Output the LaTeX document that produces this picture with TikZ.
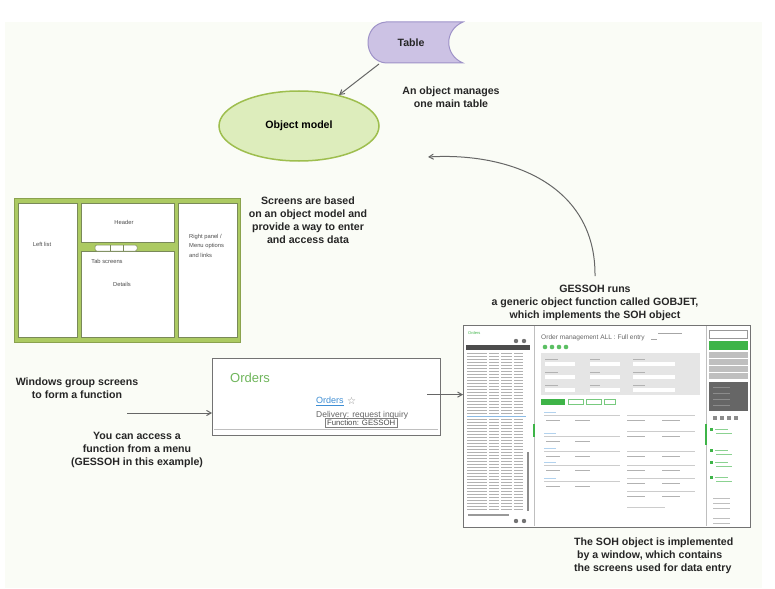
\documentclass[tikz,border=0pt]{standalone}
\usepackage{fontspec}
\setmainfont{Liberation Sans}
\newfontfamily\symfont{DejaVu Sans}
\usepackage{tikz}
\usetikzlibrary{arrows,positioning,calc,shapes.geometric}
\definecolor{bgtint}{RGB}{250,252,246}
\definecolor{tablefill}{RGB}{204,194,228}
\definecolor{tabledraw}{RGB}{158,146,200}
\definecolor{modelfill}{RGB}{221,237,188}
\definecolor{modeldraw}{RGB}{158,190,78}
\definecolor{framegreen}{RGB}{172,202,98}
\definecolor{darkframe}{RGB}{88,108,48}
\definecolor{ordergreen}{RGB}{112,182,92}
\definecolor{linkblue}{RGB}{62,142,212}
\definecolor{sapgreen}{RGB}{62,180,72}
\tikzset{note/.style={font=\bfseries\fontsize{10.6}{13}\selectfont,align=center,text=black!85,inner sep=0pt}}
\tikzset{wire/.style={draw=darkframe!80,fill=white,line width=0.6pt}}
\tikzset{tiny/.style={font=\fontsize{5.8}{9.5}\selectfont,text=black!70,inner sep=0pt}}
\tikzset{link/.style={->,draw=black!60,line width=1pt}}

\begin{document}
\begin{tikzpicture}[x=1pt, y=-1pt, >=angle 60]
\useasboundingbox (0,0) rectangle (775,588);
\fill[bgtint] (5,22) rectangle (762,588);

    \draw[tabledraw, fill=tablefill, line width=1pt] (386,22) -- (463,22)
        .. controls (444,30) and (444,55) .. (463,63) -- (386,63)
        .. controls (362,61) and (362,24) .. (386,22) -- cycle;
    \node[note] (table) at (411,43) {Table};
    \coordinate (tablefoot) at (379,64);
    \node[ellipse, draw=modeldraw, fill=modelfill, line width=1.5pt, minimum width=160pt, minimum height=70pt, font=\bfseries\fontsize{10.6}{12}\selectfont] (model) at (299,126) {Object model};
    \draw[link] (tablefoot) -- (model);
    \node[note] (manages) at (451,97) {An object manages\\one main table};

    \draw[draw=framegreen!80!black, fill=framegreen, line width=1pt] (14,198) rectangle (240,342);
    \draw[wire] (18,203) rectangle (77,337);
    \draw[wire] (81,203) rectangle (174,242);
    \draw[wire] (81,251) rectangle (174,337);
    \draw[wire] (178,203) rectangle (237,337);
    \draw[darkframe!80, fill=white, line width=0.5pt, rounded corners=1.5pt] (95,245) rectangle (137,251);
    \draw[darkframe!80, line width=0.5pt] (110,245) -- (110,251) (123,245) -- (123,251);
    \node[tiny] (leftlist) at (42,244) {Left list};
    \node[tiny] (header) at (124,222) {Header};
    \node[tiny] (tabscreens) at (107,261) {Tab screens};
    \node[tiny] (details) at (122,284) {Details};
    \node[tiny, align=left, anchor=north west] (rightpanel) at (189,234) {Right panel /\\Menu options\\and links};
    \node[note] (screens) at (308,220) {Screens are based\\on an object model and\\provide a way to enter\\and access data};

    \node[note] (windows) at (77,388) {Windows group screens\\to form a function};
    \node[note] (access) at (137,450) {You can access a\\function from a menu\\(GESSOH in this example)};
    \node[draw=black!55, line width=1.2pt, fill=white, minimum width=228pt, minimum height=77pt, anchor=north west, inner sep=0pt] (orders) at (212,358) {};
    \draw[black!25, line width=1pt] (214,429) -- (438,429);
    \node[anchor=west, text=ordergreen, font=\fontsize{13}{13}\selectfont, inner sep=0pt] (ordtitle) at (230,378) {Orders};
    \node[anchor=west, text=linkblue, font=\fontsize{9}{9}\selectfont, inner sep=0pt] (ordlink) at (316,401) {\underline{Orders}};
    \node[right=3pt of ordlink, text=black!45, font=\symfont\fontsize{10}{10}\selectfont, inner sep=0pt] (star) {☆};
    \node[anchor=west, text=black!60, font=\fontsize{8.5}{9}\selectfont, inner sep=0pt] (delivery) at (316,415) {Delivery: request inquiry};
    \node[draw=black!50, fill=white, text=black!70, font=\fontsize{7.8}{9}\selectfont, inner sep=1.8pt, anchor=north west] (tooltip) at (325,418) {Function: GESSOH};
    \coordinate (menuin) at (127,413);
    \draw[link] (menuin) -- (menuin -| orders.west);

    \node[draw=black!55, line width=1.2pt, fill=white, minimum width=287pt, minimum height=202pt, anchor=north west, inner sep=0pt] (window) at (463,325) {};
    \draw[link] ($(orders.east)+(-14,-2.5)$) -- ($(window.west)+(0,-32)$);
    \coordinate (gessohtop) at (595,276);
    \coordinate (backtip) at (428,157);
    \draw[link] (gessohtop) .. controls (596,185) and (510,152) .. (backtip);
    \node[note] (gessoh) at (595,303) {GESSOH runs\\a generic object function called GOBJET,\\which implements the SOH object};
    \node[note, align=left, anchor=west] (soh) at (574,556) {The SOH object is implemented\\\ by a window, which contains\\ the screens used for data entry};

    \node[anchor=west, text=sapgreen, font=\fontsize{4}{4}\selectfont, inner sep=0pt] (listtitle) at (468,333) {Orders};
    \foreach \cx in {516,524} {
        \fill[black!55] (\cx,341) circle (2.2);
        \fill[black!55] (\cx,521) circle (2.2);
    }
    \fill[black!70] (466,345) rectangle (530,350);
    \foreach \i in {0,...,52} {
        \draw[black!30, line width=1pt] (467,{353.5+3*\i}) -- (487,{353.5+3*\i}) (489,{353.5+3*\i}) -- (499,{353.5+3*\i}) (501,{353.5+3*\i}) -- (512,{353.5+3*\i}) (514,{353.5+3*\i}) -- (523,{353.5+3*\i});
    }
    \draw[linkblue!60, line width=1.2pt] (467,416.5) -- (526,416.5);
    \draw[black!45, line width=1.5pt] (528,452) -- (528,511);
    \draw[black!40, line width=1.5pt] (468,515) -- (509,515);
    \draw[black!25] (534,326) -- (534,526);
    \draw[sapgreen, line width=1.5pt] (534,424) -- (534,437);

    \node[anchor=west, text=black!60, font=\fontsize{6.6}{7}\selectfont, inner sep=0pt] (ordmgmt) at (541,338) {Order management ALL : Full entry};
    \draw[black!35, line width=0.8pt] (651,339) -- (657,339) (658,333) -- (682,333);
    \foreach \cx in {545,552,559,566} \fill[sapgreen!85] (\cx,347) circle (2.3);
    \fill[black!10] (541,353) rectangle (700,395);
    \foreach \fy in {362,375,388} {
        \fill[white] (545,\fy) rectangle (575,{\fy+3.5});
        \fill[white] (590,\fy) rectangle (620,{\fy+3.5});
        \fill[white] (633,\fy) rectangle (675,{\fy+3.5});
        \draw[black!30, line width=0.6pt] (545,{\fy-3}) -- (558,{\fy-3}) (590,{\fy-3}) -- (600,{\fy-3}) (633,{\fy-3}) -- (645,{\fy-3});
    }
    \fill[sapgreen] (541,399) rectangle (565,405);
    \draw[sapgreen!70, line width=0.6pt] (568,399.5) rectangle (583,404.5) (586,399.5) rectangle (601,404.5) (604,399.5) rectangle (615,404.5);
    \foreach \fy in {412,433,448,462,478} {
        \draw[linkblue!40, line width=0.6pt] (544,\fy) -- (556,\fy);
        \draw[black!20, line width=0.6pt] (544,{\fy+3}) -- (620,{\fy+3});
        \draw[black!30, line width=0.6pt] (546,{\fy+8}) -- (560,{\fy+8}) (575,{\fy+8}) -- (590,{\fy+8});
    }
    \foreach \fy in {412,428,448,462,475,488} {
        \draw[black!20, line width=0.6pt] (627,{\fy+3}) -- (695,{\fy+3});
        \draw[black!30, line width=0.6pt] (627,{\fy+8}) -- (645,{\fy+8}) (662,{\fy+8}) -- (680,{\fy+8});
    }
    \draw[black!20, line width=0.6pt] (627,507) -- (665,507);
    \draw[black!25] (706,326) -- (706,526);
    \draw[sapgreen, line width=1.5pt] (706,424) -- (706,445);

    \draw[black!40, fill=white, line width=0.5pt] (709,330) rectangle (747,338);
    \fill[sapgreen] (709,341) rectangle (748,350);
    \foreach \gy in {352,359,366,373} \fill[black!25] (709,\gy) rectangle (748,{\gy+5.5});
    \fill[black!60] (709,382) rectangle (748,411);
    \foreach \gy in {387,393,399,405} \draw[black!45, line width=0.6pt] (713,\gy) -- (730,\gy);
    \foreach \ix in {713,720,727,734} \fill[black!45] (\ix,416) rectangle ({\ix+4},420);
    \foreach \gy in {428,449,461,476} {
        \fill[sapgreen] (710,\gy) rectangle (713,{\gy+3});
        \draw[sapgreen!60, line width=0.6pt] (715,{\gy+1.5}) -- (728,{\gy+1.5}) (716,{\gy+5}) -- (732,{\gy+5});
    }
    \foreach \gy in {498,503,508,518,523} \draw[black!25, line width=0.6pt] (713,\gy) -- (730,\gy);
\end{tikzpicture}
\end{document}
